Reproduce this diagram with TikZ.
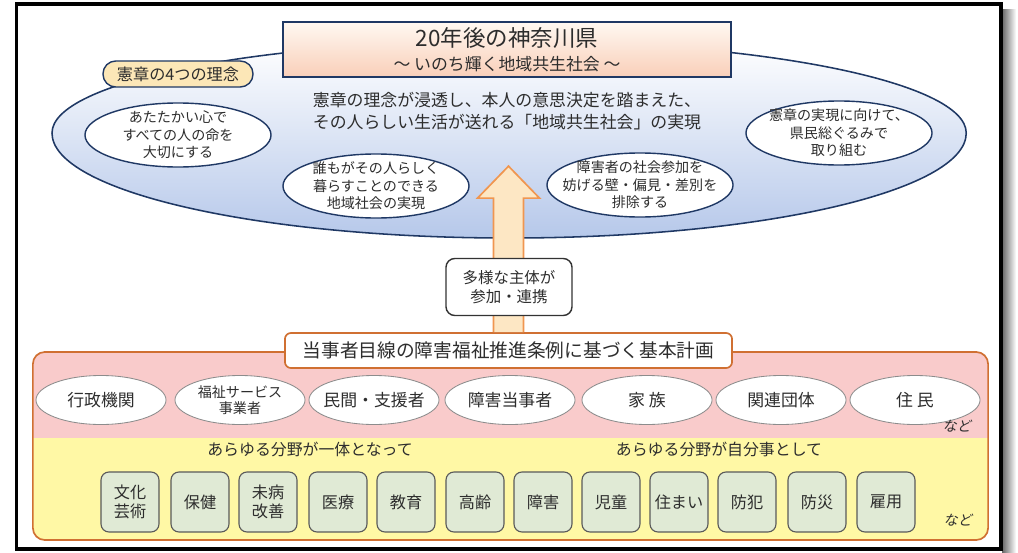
\documentclass[tikz,border=0pt]{standalone}
\usepackage{fontspec}
\setmainfont{Noto Sans CJK JP}
\newfontfamily\slantjp[FakeSlant=0.18]{Noto Sans CJK JP}
\usetikzlibrary{calc,shapes.geometric}

\definecolor{navyline}{RGB}{31,56,100}
\definecolor{skyfill}{RGB}{182,200,234}
\definecolor{peachtop}{RGB}{255,248,241}
\definecolor{peachbot}{RGB}{249,207,185}
\definecolor{pillfill}{RGB}{252,231,183}
\definecolor{arrowline}{RGB}{240,150,80}
\definecolor{arrowfill}{RGB}{253,231,196}
\definecolor{planline}{RGB}{208,112,50}
\definecolor{rowpink}{RGB}{249,203,203}
\definecolor{rowyellow}{RGB}{255,248,165}
\definecolor{fieldfill}{RGB}{224,234,213}
\definecolor{fieldline}{RGB}{90,90,90}
\definecolor{inkgray}{RGB}{45,45,45}

\tikzset{
	goalbox/.style={draw=navyline, line width=1pt, top color=peachtop, bottom color=peachbot, minimum width=11.2cm, minimum height=1.375cm, inner sep=0pt, align=center, text=inkgray, font=\fontsize{12}{17}\selectfont},
	pill/.style={draw=navyline, line width=1pt, fill=pillfill, rounded corners=0.32cm, minimum width=3.75cm, minimum height=0.65cm, inner sep=0pt, text=inkgray, font=\fontsize{11.5}{13}\selectfont},
	vision/.style={align=center, text=inkgray, font=\fontsize{12}{15.6}\selectfont},
	idea/.style={ellipse, draw=navyline, line width=1pt, fill=white, minimum width=4.65cm, minimum height=1.6cm, inner xsep=-25pt, inner ysep=-2pt, align=center, text=inkgray, font=\fontsize{10}{12.5}\selectfont},
	panel/.style={draw=planline, line width=1.2pt, fill=rowyellow, rounded corners=0.3cm, minimum width=23.875cm, minimum height=4.7cm, inner sep=0pt,
		path picture={\fill[rowpink, sharp corners] (path picture bounding box.north west) rectangle ([yshift=-2.15cm]path picture bounding box.north east);}},
	planhead/.style={draw=planline, line width=1.2pt, fill=white, rounded corners=0.15cm, minimum width=11.175cm, minimum height=0.875cm, inner sep=0pt, text=inkgray, font=\fontsize{13.3}{16}\selectfont},
	bigarrow/.style={draw=arrowline, line width=1.2pt, fill=arrowfill, line join=miter},
	linkbox/.style={draw=black!80, line width=1pt, fill=white, rounded corners=0.22cm, minimum width=3.15cm, minimum height=1.425cm, inner sep=0pt, align=center, text=inkgray, font=\fontsize{11}{13}\selectfont},
	actor/.style={ellipse, draw=black!45, line width=0.6pt, fill=white, minimum width=3.25cm, minimum height=1.225cm, inner xsep=-12pt, inner ysep=0pt, align=center, text=inkgray, font=\fontsize{12}{14}\selectfont},
	fieldhead/.style={text=inkgray, font=\fontsize{11.3}{13}\selectfont},
	field/.style={draw=fieldline, line width=0.8pt, fill=fieldfill, rounded corners=0.2cm, minimum width=1.45cm, minimum height=1.5cm, inner sep=0pt, align=center, text=inkgray, font=\fontsize{11.5}{14}\selectfont},
	nado/.style={text=inkgray, font=\slantjp\fontsize{10}{11}\selectfont}
}

\begin{document}
\begin{tikzpicture}[x=0.025cm, y=0.025cm]
			%%%%% START %%%%%
			\useasboundingbox (0,0) rectangle (1018,-552);
			
			% frame with shadow
			\shade[left color=black!60, right color=white] (1002,-9) rectangle (1016,-552);
			\draw[line width=2.8pt, fill=white] (16.5,-4) rectangle (1001,-549);
			
			% vision
			\draw[draw=navyline, line width=1.1pt, top color=white, bottom color=skyfill] (52,-133) arc[start angle=180, end angle=0, x radius=11.425cm, y radius=2.3cm] arc[start angle=0, end angle=-180, x radius=11.425cm, y radius=2.625cm] -- cycle;
			
			\node[goalbox] (goal) at (507,-49.5) {{\fontsize{16}{17}\selectfont 20年後の神奈川県}\\～ いのち輝く地域共生社会 ～};
			\node[pill] (charter) at (178,-74) {憲章の4つの理念};
			\node[vision] (vision) at (507,-111) {憲章の理念が浸透し、本人の意思決定を踏まえた、\\その人らしい生活が送れる「地域共生社会」の実現};
			
			\node[idea] (warm) at (178,-135) {あたたかい心で\\すべての人の命を\\大切にする};
			\node[idea] (living) at (376,-186) {誰もがその人らしく\\暮らすことのできる\\地域社会の実現};
			\node[idea] (barrier) at (640,-185) {障害者の社会参加を\\妨げる壁・偏見・差別を\\排除する};
			\node[idea] (together) at (839,-133) {憲章の実現に向けて、\\県民総ぐるみで\\取り組む};
			
			% plan
			\node[panel] (panel) at (510.5,-446) {};
			\node[planhead] (plan) at (508.5,-350.5) {当事者目線の障害福祉推進条例に基づく基本計画};
			
			\draw[bigarrow] ($(plan.north)+(-15,0)$) -- ++(0,134) -- ++(-16,0) -- ($(plan.north)+(0,166)$) -- ($(plan.north)+(31,134)$) -- ++(-16,0) -- ($(plan.north)+(15,0)$);
			\node[linkbox] (link) at (509,-287) {多様な主体が\\参加・連携};
			
			% actors
			\node[actor] (admin) at (101,-400) {行政機関};
			\node[actor, font=\fontsize{10}{11.5}\selectfont] (service) at (240,-400) {福祉サービス\\事業者};
			\node[actor] (private) at (374,-400) {民間・支援者};
			\node[actor] (person) at (510,-400) {障害当事者};
			\node[actor] (family) at (647,-400) {家 族};
			\node[actor] (groups) at (781,-400) {関連団体};
			\node[actor] (residents) at (915,-400) {住 民};
			\node[nado] (etcactor) at (957,-426) {など};
			
			% fields
			\node[fieldhead] (unity) at (310,-449) {あらゆる分野が一体となって};
			\node[fieldhead] (ownership) at (719,-449) {あらゆる分野が自分事として};
			
			\node[field] (culture) at (130,-502) {文化\\芸術};
			\node[field] (health) at (200,-502) {保健};
			\node[field] (prevent) at (268,-502) {未病\\改善};
			\node[field] (medical) at (338,-502) {医療};
			\node[field] (school) at (406,-502) {教育};
			\node[field] (elderly) at (475,-502) {高齢};
			\node[field] (disability) at (543,-502) {障害};
			\node[field] (children) at (611,-502) {児童};
			\node[field] (housing) at (679,-502) {住まい};
			\node[field] (crime) at (747,-502) {防犯};
			\node[field] (disaster) at (817,-502) {防災};
			\node[field] (jobs) at (886,-502) {雇用};
			\node[nado] (etcfield) at (958,-520) {など};
			
			%%%%% END %%%%%
\end{tikzpicture}
\end{document}
